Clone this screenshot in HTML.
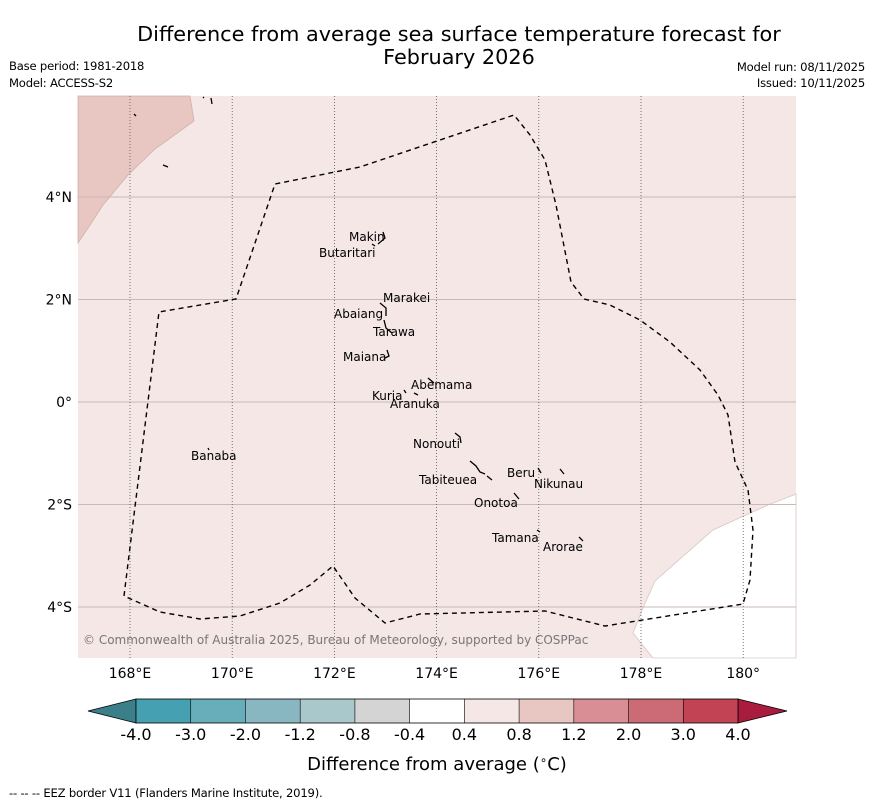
<!DOCTYPE html>
<html><head><meta charset="utf-8"><style>
body{margin:0;background:#fff;font-family:"Liberation Sans","DejaVu Sans",sans-serif;}
svg text{font-family:"DejaVu Sans","Liberation Sans",sans-serif;}
</style></head><body>
<svg width="873" height="804" viewBox="0 0 873 804" xmlns="http://www.w3.org/2000/svg">
<text x="459" y="41" text-anchor="middle" font-size="20.8" fill="#000">Difference from average sea surface temperature forecast for</text>
<text x="459" y="64" text-anchor="middle" font-size="20.8" fill="#000">February 2026</text>
<text x="9" y="70" font-size="11.6" letter-spacing="-0.2">Base period: 1981-2018</text>
<text x="9" y="87" font-size="11.6" letter-spacing="-0.2">Model: ACCESS-S2</text>
<text x="865" y="71" font-size="11.6" letter-spacing="-0.2" text-anchor="end">Model run: 08/11/2025</text>
<text x="865" y="87" font-size="11.6" letter-spacing="-0.2" text-anchor="end">Issued: 10/11/2025</text>
<g>
<rect x="78" y="96" width="718" height="562" fill="#f4e7e6"/>
<polygon points="78,243 92,222 103,205 128,175 155,149 194,121 190,96 78,96" fill="#e8c7c3" stroke="#d0b0ad" stroke-width="0.8"/>
<polygon points="796,494 768,505 713,530 655,581 643,608 633,633 653,658 796,658" fill="#ffffff" stroke="#d8c6c4" stroke-width="0.8"/>
<g id="grid"></g>
<polyline points="124,596 159,312 236,299 275,184 360,167 440,140 514,115 530,135 545,160 556,205 571,282 584,299 610,305 640,320 670,342 700,370 718,395 728,415 735,462 748,490 753,530 750,580 743,604 605,626 545,611 420,614 385,623 355,598 333,566 310,585 280,603 240,616 200,619 160,612 124,596" fill="none" stroke="#000" stroke-width="1.4" stroke-dasharray="5,4"/>
<g id="islands" fill="none" stroke="#000" stroke-width="1.3">
<path d="M383,232 L385,238 L378,244 M375,246 L372,244"/>
<path d="M380,303 L386,308 L386,316 M384,320 L386,328 L392,333"/>
<path d="M387,350 L389,356 L385,358"/>
<path d="M428,378 L434,383 M404,390 L406,393 M414,393 L418,395"/>
<path d="M455,433 L460,437 L461,443"/>
<path d="M470,461 L476,466 L480,472 L485,474 M487,476 L492,480"/>
<path d="M538,468 L541,473 M560,469 L564,474 M514,493 L519,499"/>
<path d="M537,530 L540,532 M579,537 L583,541"/>
<path d="M208,448 L209,450 M134,114 L136,116 M163,165 L168,167 M211,98 L212,104 M203,97 L204,98"/>
</g>
<g font-size="12" fill="#000">
<text x="349" y="241">Makin</text>
<text x="319" y="257">Butaritari</text>
<text x="383" y="302">Marakei</text>
<text x="334" y="318">Abaiang</text>
<text x="373" y="336">Tarawa</text>
<text x="343" y="361">Maiana</text>
<text x="411" y="389">Abemama</text>
<text x="372" y="400">Kuria</text>
<text x="390" y="408">Aranuka</text>
<text x="413" y="448">Nonouti</text>
<text x="191" y="460">Banaba</text>
<text x="507" y="477">Beru</text>
<text x="419" y="484">Tabiteuea</text>
<text x="534" y="488">Nikunau</text>
<text x="474" y="507">Onotoa</text>
<text x="492" y="542">Tamana</text>
<text x="543" y="551">Arorae</text>
</g>
<text x="83" y="644" font-size="12" fill="#777">© Commonwealth of Australia 2025, Bureau of Meteorology, supported by COSPPac</text>
</g>
<g id="axes" font-size="14" fill="#000"></g>
<g id="cbar"></g>
<text x="437" y="770" text-anchor="middle" font-size="18">Difference from average (<tspan font-size="12" dy="-6">∘</tspan><tspan dy="6">C)</tspan></text>
<text x="9" y="797" font-size="11.6" letter-spacing="-0.2">--  --  -- EEZ border V11 (Flanders Marine Institute, 2019).</text>
</svg>
<script>
const lonTicks=[168,170,172,174,176,178,180];
const lonLabels=["168°E","170°E","172°E","174°E","176°E","178°E","180°"];
const latTicks=[4,2,0,-2,-4];
const latLabels=["4°N","2°N","0°","2°S","4°S"];
const cbarColors=["#45a0b1","#68adba","#88b7c1","#a9c8cb","#d4d4d4","#ffffff","#f4e7e6","#e8c7c3","#d98e96","#cc6a76","#c24353"];
const cbarLabels=["-4.0","-3.0","-2.0","-1.2","-0.8","-0.4","0.4","0.8","1.2","2.0","3.0","4.0"];
const NS="http://www.w3.org/2000/svg";
function xLon(l){return 130+(l-168)*51.1;}
function yLat(l){return 402-l*51.25;}
const grid=document.getElementById('grid'),axes=document.getElementById('axes'),cb=document.getElementById('cbar');
function mk(t,a,p){const e=document.createElementNS(NS,t);for(const k in a)e.setAttribute(k,a[k]);p.appendChild(e);return e;}
latTicks.forEach((v,i)=>{const y=yLat(v);
 const l=mk('line',{x1:78,x2:796,y1:y,y2:y,stroke:'#c9b9b8','stroke-width':1},grid);
 
 
 const t=mk('text',{x:72,y:y+5,'text-anchor':'end'},axes);t.textContent=latLabels[i];
 
 });
lonTicks.forEach((v,i)=>{const x=xLon(v);
 const l=mk('line',{x1:x,x2:x,y1:96,y2:658,stroke:'#555','stroke-width':0.8,'stroke-dasharray':'1,2'},grid);
 
 
 const t=mk('text',{x:x,y:678,'text-anchor':'middle'},axes);t.textContent=lonLabels[i];
 
 });
const x0=136,x1=738,w=(x1-x0)/cbarColors.length,y0=699,h=24;
const lt=mk('polygon',{points:`88,711 ${x0},${y0} ${x0},${y0+h}`,fill:'#3b7f8a',stroke:'#000','stroke-width':0.8},cb);


const rt=mk('polygon',{points:`787,711 ${x1},${y0} ${x1},${y0+h}`,fill:'#a91c3d',stroke:'#000','stroke-width':0.8},cb);


cbarColors.forEach((c,i)=>{const r=mk('rect',{x:x0+i*w,y:y0,width:w,height:h,fill:c},cb);
 
 });
cbarColors.forEach((c,i)=>{if(i>0){mk('line',{x1:x0+i*w,x2:x0+i*w,y1:y0,y2:y0+h,stroke:'#000','stroke-width':0.6},cb);}});
mk('rect',{x:x0,y:y0,width:x1-x0,height:h,fill:'none',stroke:'#000','stroke-width':0.8},cb);
cbarLabels.forEach((s,i)=>{const t=mk('text',{x:x0+i*w,y:740,'text-anchor':'middle','font-size':16},cb);t.textContent=s;
 
 });
</script>
</body></html>
